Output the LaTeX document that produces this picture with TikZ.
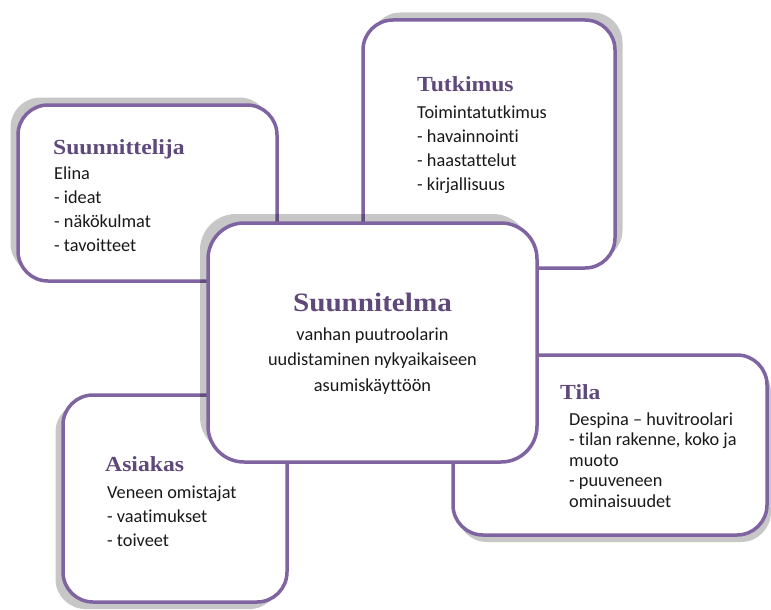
\documentclass[tikz,border=0pt]{standalone}
\usepackage{fontspec}
\setmainfont{Carlito}[Ligatures={TeX,NoCommon}]
\newfontfamily\headfont[FakeStretch=1.1]{Liberation Serif}
\usetikzlibrary{shadows}
\definecolor{boxline}{HTML}{8064A2}
\definecolor{headcol}{HTML}{5F497A}

\begin{document}
\begin{tikzpicture}[x=1pt, y=-1pt,
  card/.style={draw=boxline, line width=3.5pt, fill=white,
               rounded corners=30pt, inner sep=0pt},
  head/.style={font=\headfont\bfseries\fontsize{21.5}{24}\selectfont,
               text=headcol, anchor=base west, inner sep=0pt},
  body/.style={font=\fontsize{18.3}{24}\selectfont, align=left,
               anchor=north west, inner sep=0pt, text=black!90},
  shade/.style={fill=black, opacity=0.22}
]
  \useasboundingbox (0,0) rectangle (771,610);

  % outer boxes
  \node[card, minimum width=259pt, minimum height=176pt,
        drop shadow={shade, shadow xshift=-7.5pt, shadow yshift=7.5pt}]
        (suunBox) at (147.5,193) {};
  \node[head] (suunHead) at (53,154) {Suunnittelija};
  \node[body] (suunText) at (54,164) {\rule{0pt}{15pt}Elina\\- ideat\\- näkökulmat\\- tavoitteet};

  \node[card, minimum width=252pt, minimum height=248pt,
        drop shadow={shade, shadow xshift=7.5pt, shadow yshift=7.5pt}]
        (tutkBox) at (489,144) {};
  \node[head] (tutkHead) at (417,92) {Tutkimus};
  \node[body] (tutkText) at (417,103) {\rule{0pt}{15pt}Toimintatutkimus\\- havainnointi\\- haastattelut\\- kirjallisuus};

  \node[card, minimum width=314pt, minimum height=180pt,
        drop shadow={shade, shadow xshift=4pt, shadow yshift=-7pt}]
        (tilaBox) at (610,445) {};
  \node[head] (tilaHead) at (560,399) {Tila};
  \node[body, font=\fontsize{18.3}{20.5}\selectfont] (tilaText) at (569,410)
        {\rule{0pt}{15pt}Despina -- huvitroolari\\- tilan rakenne, koko ja\\muoto\\- puuveneen\\ominaisuudet};

  \node[card, minimum width=224pt, minimum height=207pt,
        drop shadow={shade, shadow xshift=-7.5pt, shadow yshift=-7pt}]
        (asiaBox) at (175,498.5) {};
  \node[head] (asiaHead) at (105,471) {Asiakas};
  \node[body] (asiaText) at (107,483) {\rule{0pt}{15pt}Veneen omistajat\\- vaatimukset\\- toiveet};

  % centre box on top
  \node[card, rounded corners=36pt, minimum width=329pt, minimum height=239pt,
        drop shadow={shade, shadow xshift=-8pt, shadow yshift=9pt}]
        (planBox) at (372.5,342.5) {};
  \node[head, font=\headfont\bfseries\fontsize{26.5}{28}\selectfont, anchor=base]
        (planHead) at (372.5,311) {Suunnitelma};
  \node[body, font=\fontsize{18.3}{25.5}\selectfont, align=center, anchor=north]
        (planText) at (372.5,325) {\rule{0pt}{15pt}vanhan puutroolarin\\uudistaminen nykyaikaiseen\\asumiskäyttöön};
\end{tikzpicture}
\end{document}
